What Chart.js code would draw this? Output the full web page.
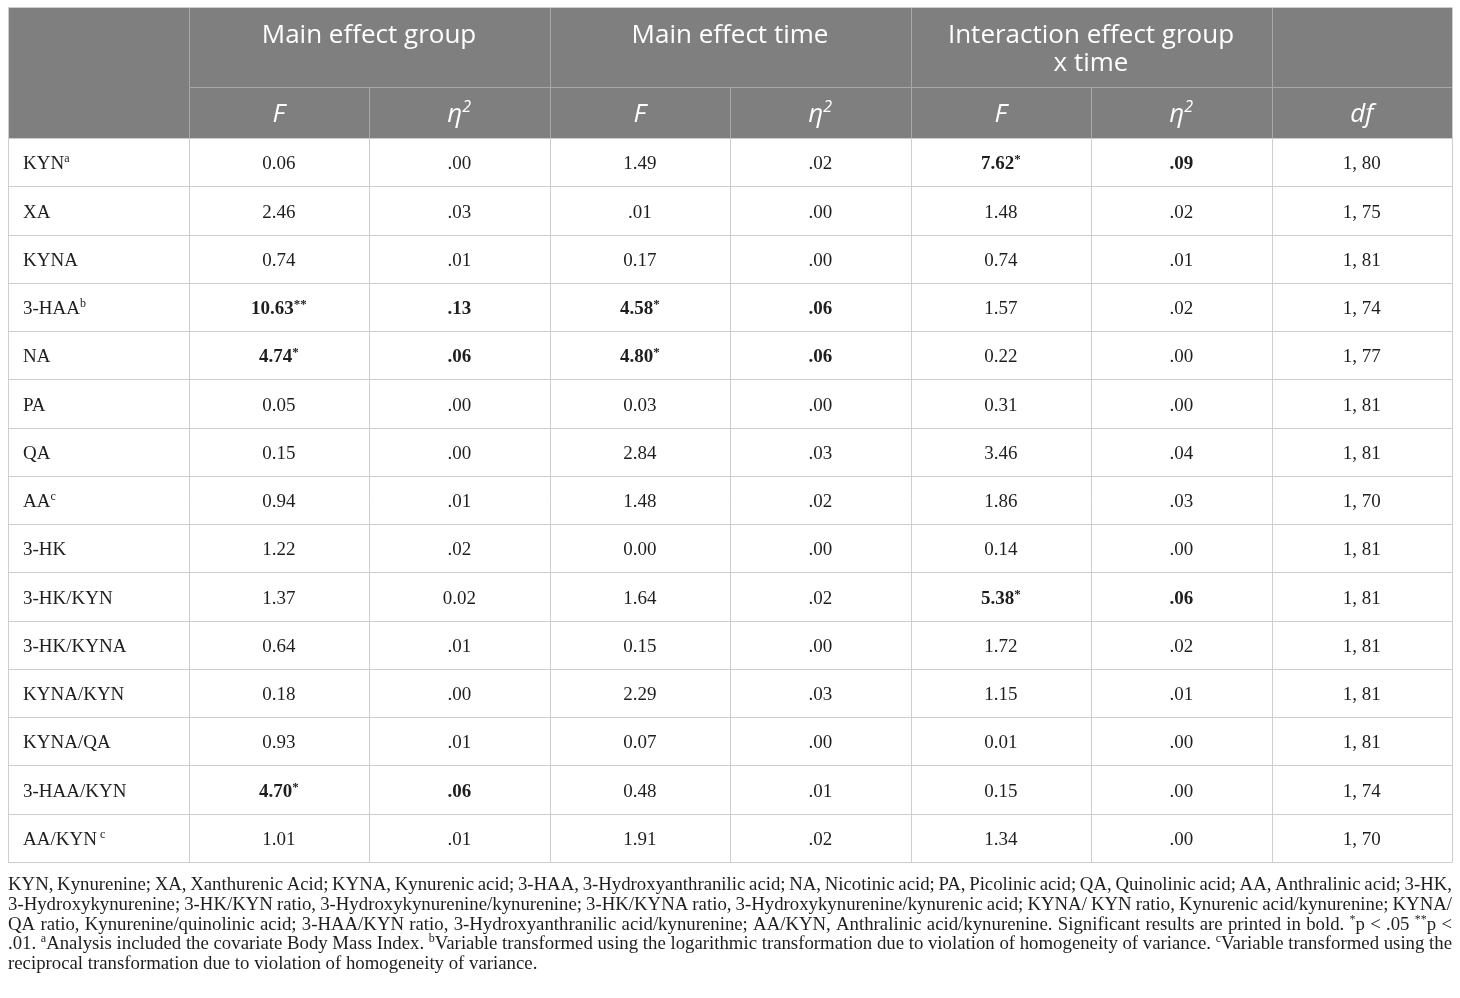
<!DOCTYPE html>
<html>
<head>
<meta charset="utf-8">
<script src="https://cdn.jsdelivr.net/npm/chart.js@4.4.0/dist/chart.umd.min.js"></script>
<style>
  html, body { margin: 0; padding: 0; background: #fff; }
  canvas { display: block; }
</style>
</head>
<body>
<canvas id="statsTable" width="1460" height="998"></canvas>
<script>
// --- Table data ---
const rowLabels = ['KYN', 'XA', 'KYNA', '3-HAA', 'NA', 'PA', 'QA', 'AA', '3-HK', '3-HK/KYN',
                   '3-HK/KYNA', 'KYNA/KYN', 'KYNA/QA', '3-HAA/KYN', 'AA/KYN'];
const rowNotes  = ['a', '', '', 'b', '', '', '', 'c', '', '', '', '', '', '', ' c'];

const groupF   = ['0.06', '2.46', '0.74', '10.63**', '4.74*', '0.05', '0.15', '0.94', '1.22', '1.37', '0.64', '0.18', '0.93', '4.70*', '1.01'];
const groupEta = ['.00', '.03', '.01', '.13', '.06', '.00', '.00', '.01', '.02', '0.02', '.01', '.00', '.01', '.06', '.01'];
const timeF    = ['1.49', '.01', '0.17', '4.58*', '4.80*', '0.03', '2.84', '1.48', '0.00', '1.64', '0.15', '2.29', '0.07', '0.48', '1.91'];
const timeEta  = ['.02', '.00', '.00', '.06', '.06', '.00', '.03', '.02', '.00', '.02', '.00', '.03', '.00', '.01', '.02'];
const interF   = ['7.62*', '1.48', '0.74', '1.57', '0.22', '0.31', '3.46', '1.86', '0.14', '5.38*', '1.72', '1.15', '0.01', '0.15', '1.34'];
const interEta = ['.09', '.02', '.01', '.02', '.00', '.00', '.04', '.03', '.00', '.06', '.02', '.01', '.00', '.00', '.00'];
const dfValues = ['1, 80', '1, 75', '1, 81', '1, 74', '1, 77', '1, 81', '1, 81', '1, 70', '1, 81', '1, 81', '1, 81', '1, 81', '1, 81', '1, 74', '1, 70'];

const groupTitles = [['Main effect group'], ['Main effect time'], ['Interaction effect group', 'x time']];
const subHeaders  = ['F', 'η', 'F', 'η', 'F', 'η', 'df'];

const footnoteLines = [
  'KYN, Kynurenine; XA, Xanthurenic Acid; KYNA, Kynurenic acid; 3-HAA, 3-Hydroxyanthranilic acid; NA, Nicotinic acid; PA, Picolinic acid; QA, Quinolinic acid; AA, Anthralinic acid; 3-HK,',
  '3-Hydroxykynurenine; 3-HK/KYN ratio, 3-Hydroxykynurenine/kynurenine; 3-HK/KYNA ratio, 3-Hydroxykynurenine/kynurenic acid; KYNA/ KYN ratio, Kynurenic acid/kynurenine; KYNA/',
  'QA ratio, Kynurenine/quinolinic acid; 3-HAA/KYN ratio, 3-Hydroxyanthranilic acid/kynurenine; AA/KYN, Anthralinic acid/kynurenine. Significant results are printed in bold. ^*p < .05 ^**p <',
  '.01. ^aAnalysis included the covariate Body Mass Index. ^bVariable transformed using the logarithmic transformation due to violation of homogeneity of variance. ^cVariable transformed using the',
  'reciprocal transformation due to violation of homogeneity of variance.'
];

// value columns, in table order (F of each effect is followed by its eta)
const valueColumns = [groupF, groupEta, timeF, timeEta, interF, interEta, dfValues];

// header heights, in data-row units
const HEAD1 = 1.66;
const HEAD2 = 1.06;
const HEAD = HEAD1 + HEAD2;

const SANS = "'Open Sans', 'Noto Sans', sans-serif";
const SERIF = "'Liberation Serif', 'DejaVu Serif', serif";
const NOTE_FONT = '18.8px ' + SERIF;

// --- text helpers ---
function drawRich(ctx, segs, x, y, align) {
  let w = 0;
  segs.forEach(s => { ctx.font = s.font; w += ctx.measureText(s.t).width; });
  let cx = align === 'center' ? x - w / 2 : x;
  segs.forEach(s => {
    ctx.font = s.font;
    ctx.fillText(s.t, cx, y + (s.dy || 0));
    cx += ctx.measureText(s.t).width;
  });
  return w;
}

function valueSegs(v, bold) {
  const m = v.match(/^([^*]*)(\**)$/);
  const base = (bold ? 'bold ' : '') + '19px ' + SERIF;
  const segs = [{ t: m[1], font: base }];
  if (m[2]) segs.push({ t: m[2], font: (bold ? 'bold ' : '') + '13px ' + SERIF, dy: -6 });
  return segs;
}

function wordSegs(word) {
  const segs = [];
  const re = /\^([a-z]|\*+)/g;
  let last = 0, m;
  while ((m = re.exec(word))) {
    if (m.index > last) segs.push({ t: word.slice(last, m.index), font: NOTE_FONT });
    segs.push({ t: m[1], font: '12px ' + SERIF, dy: -7 });
    last = re.lastIndex;
  }
  if (last < word.length) segs.push({ t: word.slice(last), font: NOTE_FONT });
  return segs;
}

function segWidth(ctx, segs) {
  let w = 0;
  segs.forEach(s => { ctx.font = s.font; w += ctx.measureText(s.t).width; });
  return w;
}

// --- plugin: cells, rules and texts ---
const tablePlugin = {
  id: 'tableCells',
  beforeDatasetsDraw(chart) {
    const { ctx, chartArea: a, scales: { x, y } } = chart;
    const px = v => Math.round(v) + 0.5;
    const top = y.getPixelForValue(0), mid = y.getPixelForValue(HEAD1), hb = y.getPixelForValue(HEAD);
    ctx.save();
    ctx.fillStyle = '#7f7f7f';
    ctx.fillRect(a.left, top, a.right - a.left, hb - top);

    ctx.lineWidth = 1;
    ctx.strokeStyle = '#a8a8a8';
    ctx.beginPath();
    ctx.moveTo(px(x.getPixelForValue(1)), px(mid));
    ctx.lineTo(a.right, px(mid));
    [1, 3, 5, 7].forEach(c => {
      ctx.moveTo(px(x.getPixelForValue(c)), top);
      ctx.lineTo(px(x.getPixelForValue(c)), mid);
    });
    for (let c = 1; c < 8; c++) {
      ctx.moveTo(px(x.getPixelForValue(c)), mid);
      ctx.lineTo(px(x.getPixelForValue(c)), hb);
    }
    ctx.stroke();

    ctx.strokeStyle = '#cdcdcd';
    ctx.beginPath();
    for (let r = 0; r <= rowLabels.length; r++) {
      const yy = px(y.getPixelForValue(HEAD + r));
      ctx.moveTo(a.left, yy);
      ctx.lineTo(a.right, yy);
    }
    for (let c = 0; c <= 8; c++) {
      const xx = px(x.getPixelForValue(c));
      ctx.moveTo(xx, (c === 0 || c === 8) ? px(top) : px(hb));
      ctx.lineTo(xx, px(y.getPixelForValue(HEAD + rowLabels.length)));
    }
    ctx.moveTo(a.left, px(top));
    ctx.lineTo(a.right, px(top));
    ctx.stroke();
    ctx.restore();
  },
  afterDatasetsDraw(chart) {
    const { ctx, chartArea: a, scales: { x, y } } = chart;
    const top = y.getPixelForValue(0);
    const subMid = y.getPixelForValue(HEAD1 + HEAD2 / 2);
    ctx.save();
    ctx.textAlign = 'left';
    ctx.textBaseline = 'alphabetic';

    // header titles
    ctx.fillStyle = '#ffffff';
    groupTitles.forEach((lines, g) => {
      const cx = x.getPixelForValue(2 + g * 2);
      lines.forEach((line, k) => {
        drawRich(ctx, [{ t: line, font: '26px ' + SANS }], cx, top + 36 + k * 28, 'center');
      });
    });
    subHeaders.forEach((h, c) => {
      const cx = x.getPixelForValue(c + 1.5);
      const segs = [{ t: h, font: 'italic 26px ' + SANS }];
      if (h === 'η') segs.push({ t: '2', font: 'italic 16px ' + SANS, dy: -10 });
      drawRich(ctx, segs, cx, subMid + 9, 'center');
    });

    // body cells, placed on the dataset points
    ctx.fillStyle = '#1e1e1e';
    chart.data.datasets.forEach((ds, i) => {
      const meta = chart.getDatasetMeta(i);
      meta.data.forEach((pt, j) => {
        if (i === 0) {
          const segs = [{ t: rowLabels[j], font: '19px ' + SERIF }];
          if (rowNotes[j]) segs.push({ t: rowNotes[j], font: '12px ' + SERIF, dy: -7 });
          drawRich(ctx, segs, x.getPixelForValue(0) + 15, pt.y + 7, 'left');
        } else {
          const col = valueColumns[i - 1];
          // eta is bold when its F is significant
          const fCol = (i - 1) % 2 === 0 ? col : valueColumns[i - 2];
          const bold = i < 7 && fCol[j].includes('*');
          drawRich(ctx, valueSegs(col[j], bold), pt.x, pt.y + 7, 'center');
        }
      });
    });

    // footnote, justified
    ctx.fillStyle = '#1e1e1e';
    const width = a.right - a.left;
    footnoteLines.forEach((line, k) => {
      const ly = a.bottom + 28 + k * 19.8;
      const words = line.split(' ').map(wordSegs);
      const widths = words.map(w => segWidth(ctx, w));
      const last = k === footnoteLines.length - 1;
      ctx.font = NOTE_FONT;
      const gap = last ? ctx.measureText(' ').width
        : (width - widths.reduce((s, w) => s + w, 0)) / (words.length - 1);
      let cx = a.left;
      words.forEach((w, n) => {
        drawRich(ctx, w, cx, ly, 'left');
        cx += widths[n] + gap;
      });
    });
    ctx.restore();
  }
};

// one scatter dataset per column, one point per row centre
const columnCount = valueColumns.length + 1;
const datasets = [];
for (let c = 0; c < columnCount; c++) {
  datasets.push({
    label: c === 0 ? 'label' : 'col' + c,
    data: rowLabels.map((_, j) => ({ x: c + 0.5, y: HEAD + j + 0.5 })),
    pointRadius: 0,
    pointHoverRadius: 0
  });
}

new Chart(document.getElementById('statsTable'), {
  type: 'scatter',
  data: { datasets },
  options: {
    responsive: false,
    animation: false,
    events: [],
    layout: { padding: { left: 8, right: 8, top: 7, bottom: 136 } },
    plugins: { legend: { display: false }, tooltip: { enabled: false } },
    scales: {
      x: { type: 'linear', min: 0, max: 8, display: false },
      y: { type: 'linear', min: 0, max: HEAD + rowLabels.length, reverse: true, display: false }
    }
  },
  plugins: [tablePlugin]
});
</script>
</body>
</html>
